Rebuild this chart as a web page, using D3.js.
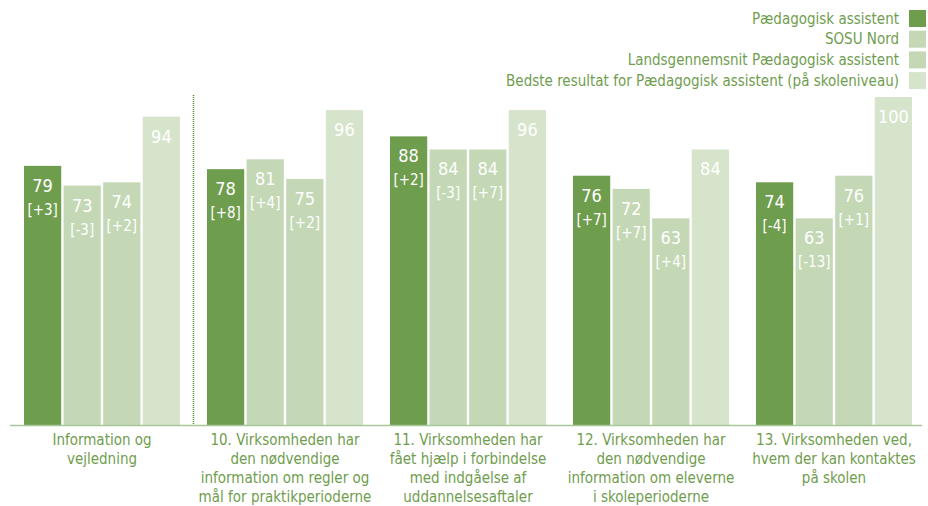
<!DOCTYPE html>
<html>
<head>
<meta charset="utf-8">
<script src="https://cdn.jsdelivr.net/npm/d3@7"></script>
<style>
  body { margin: 0; background: #fff; }
  svg { display: block; font-family: "DejaVu Sans Condensed", "DejaVu Sans", sans-serif; }
</style>
</head>
<body>
<div id="chart"></div>
<script>
// Category labels, already split into lines as in the picture
const categories = [
  ["Information og", "vejledning"],
  ["10. Virksomheden har", "den nødvendige", "information om regler og", "mål for praktikperioderne"],
  ["11. Virksomheden har", "fået hjælp i forbindelse", "med indgåelse af", "uddannelsesaftaler"],
  ["12. Virksomheden har", "den nødvendige", "information om eleverne", "i skoleperioderne"],
  ["13. Virksomheden ved,", "hvem der kan kontaktes", "på skolen"]
];

const seriesNames = [
  "Pædagogisk assistent",
  "SOSU Nord",
  "Landsgennemsnit Pædagogisk assistent",
  "Bedste resultat for Pædagogisk assistent (på skoleniveau)"
];

// values per series, one per category
const paedagogisk = [79, 78, 88, 76, 74];
const sosuNord = [73, 81, 84, 72, 63];
const landsgennemsnit = [74, 75, 84, 63, 76];
const bedste = [94, 96, 96, 84, 100];

// change vs. last time, shown in brackets (bedste has none)
const paedagogiskDiff = ["+3", "+8", "+2", "+7", "-4"];
const sosuNordDiff = ["-3", "+4", "-3", "+7", "-13"];
const landsDiff = ["+2", "+2", "+7", "+4", "+1"];

const colors = ["#6f9d4e", "#c4d8b6", "#c4d8b6", "#d7e4cc"];
const textGreen = "#6f9d4e";

const width = 928, height = 506;
const baseY = 425;

const svg = d3.select("#chart").append("svg")
  .attr("width", width)
  .attr("height", height);

const x0 = d3.scaleBand()
  .domain(d3.range(categories.length))
  .range([10.5, 925.5])
  .paddingInner(0.1475)
  .paddingOuter(0.07375);

const x1 = d3.scaleBand()
  .domain(d3.range(seriesNames.length))
  .range([0, x0.bandwidth()])
  .paddingInner(0.06);

const y = d3.scaleLinear()
  .domain([0, 100])
  .range([baseY, 97]);

const allValues = [paedagogisk, sosuNord, landsgennemsnit, bedste];
const allDiffs = [paedagogiskDiff, sosuNordDiff, landsDiff, null];

// one row per bar
const bars = [];
categories.forEach((c, ci) => {
  allValues.forEach((vals, si) => {
    bars.push({ ci, si, value: vals[ci], diff: allDiffs[si] ? allDiffs[si][ci] : null });
  });
});

// Dotted separator after the first (summary) group
const sepX = Math.round(x0(0) + x0.bandwidth() + x0.step() * x0.paddingInner() / 2) + 0.5;
svg.append("line")
  .attr("x1", sepX).attr("x2", sepX)
  .attr("y1", 95).attr("y2", baseY)
  .attr("stroke", "#4e8a2e")
  .attr("stroke-width", 1.5)
  .attr("stroke-dasharray", "1,1");

// Bars
const barG = svg.append("g");
barG.selectAll("rect")
  .data(bars)
  .enter()
  .append("rect")
  .attr("x", d => x0(d.ci) + x1(d.si))
  .attr("y", d => y(d.value))
  .attr("width", x1.bandwidth())
  .attr("height", d => baseY - y(d.value))
  .attr("fill", d => colors[d.si]);

// Value labels
barG.selectAll("text.val")
  .data(bars)
  .enter()
  .append("text")
  .attr("class", "val")
  .attr("x", d => x0(d.ci) + x1(d.si) + x1.bandwidth() / 2)
  .attr("y", d => y(d.value) + 26)
  .attr("text-anchor", "middle")
  .attr("fill", "#fff")
  .attr("font-size", "18px")
  .text(d => d.value);

barG.selectAll("text.diff")
  .data(bars.filter(d => d.diff !== null))
  .enter()
  .append("text")
  .attr("class", "diff")
  .attr("x", d => x0(d.ci) + x1(d.si) + x1.bandwidth() / 2)
  .attr("y", d => y(d.value) + 49)
  .attr("text-anchor", "middle")
  .attr("fill", "#fff")
  .attr("font-size", "15px")
  .text(d => "[" + d.diff + "]");

// Baseline
svg.append("line")
  .attr("x1", 10).attr("x2", 922)
  .attr("y1", baseY + 0.5).attr("y2", baseY + 0.5)
  .attr("stroke", "#a9c89a")
  .attr("stroke-width", 1.5);

// Category labels
const catG = svg.append("g");
categories.forEach((lines, ci) => {
  const t = catG.append("text")
    .attr("x", x0(ci) + x0.bandwidth() / 2)
    .attr("y", baseY + 20)
    .attr("text-anchor", "middle")
    .attr("fill", textGreen)
    .attr("font-size", "15px");
  lines.forEach((l, li) => {
    t.append("tspan")
      .attr("x", x0(ci) + x0.bandwidth() / 2)
      .attr("dy", li === 0 ? 0 : 19)
      .text(l);
  });
});

// Legend, right aligned
const legend = svg.append("g");
seriesNames.forEach((name, i) => {
  const ly = 10 + i * 20.7;
  legend.append("rect")
    .attr("x", 909)
    .attr("y", ly)
    .attr("width", 17)
    .attr("height", 17)
    .attr("fill", colors[i]);
  legend.append("text")
    .attr("x", 899)
    .attr("y", ly + 13.5)
    .attr("text-anchor", "end")
    .attr("fill", textGreen)
    .attr("font-size", "15px")
    .text(name);
});
</script>
</body>
</html>
